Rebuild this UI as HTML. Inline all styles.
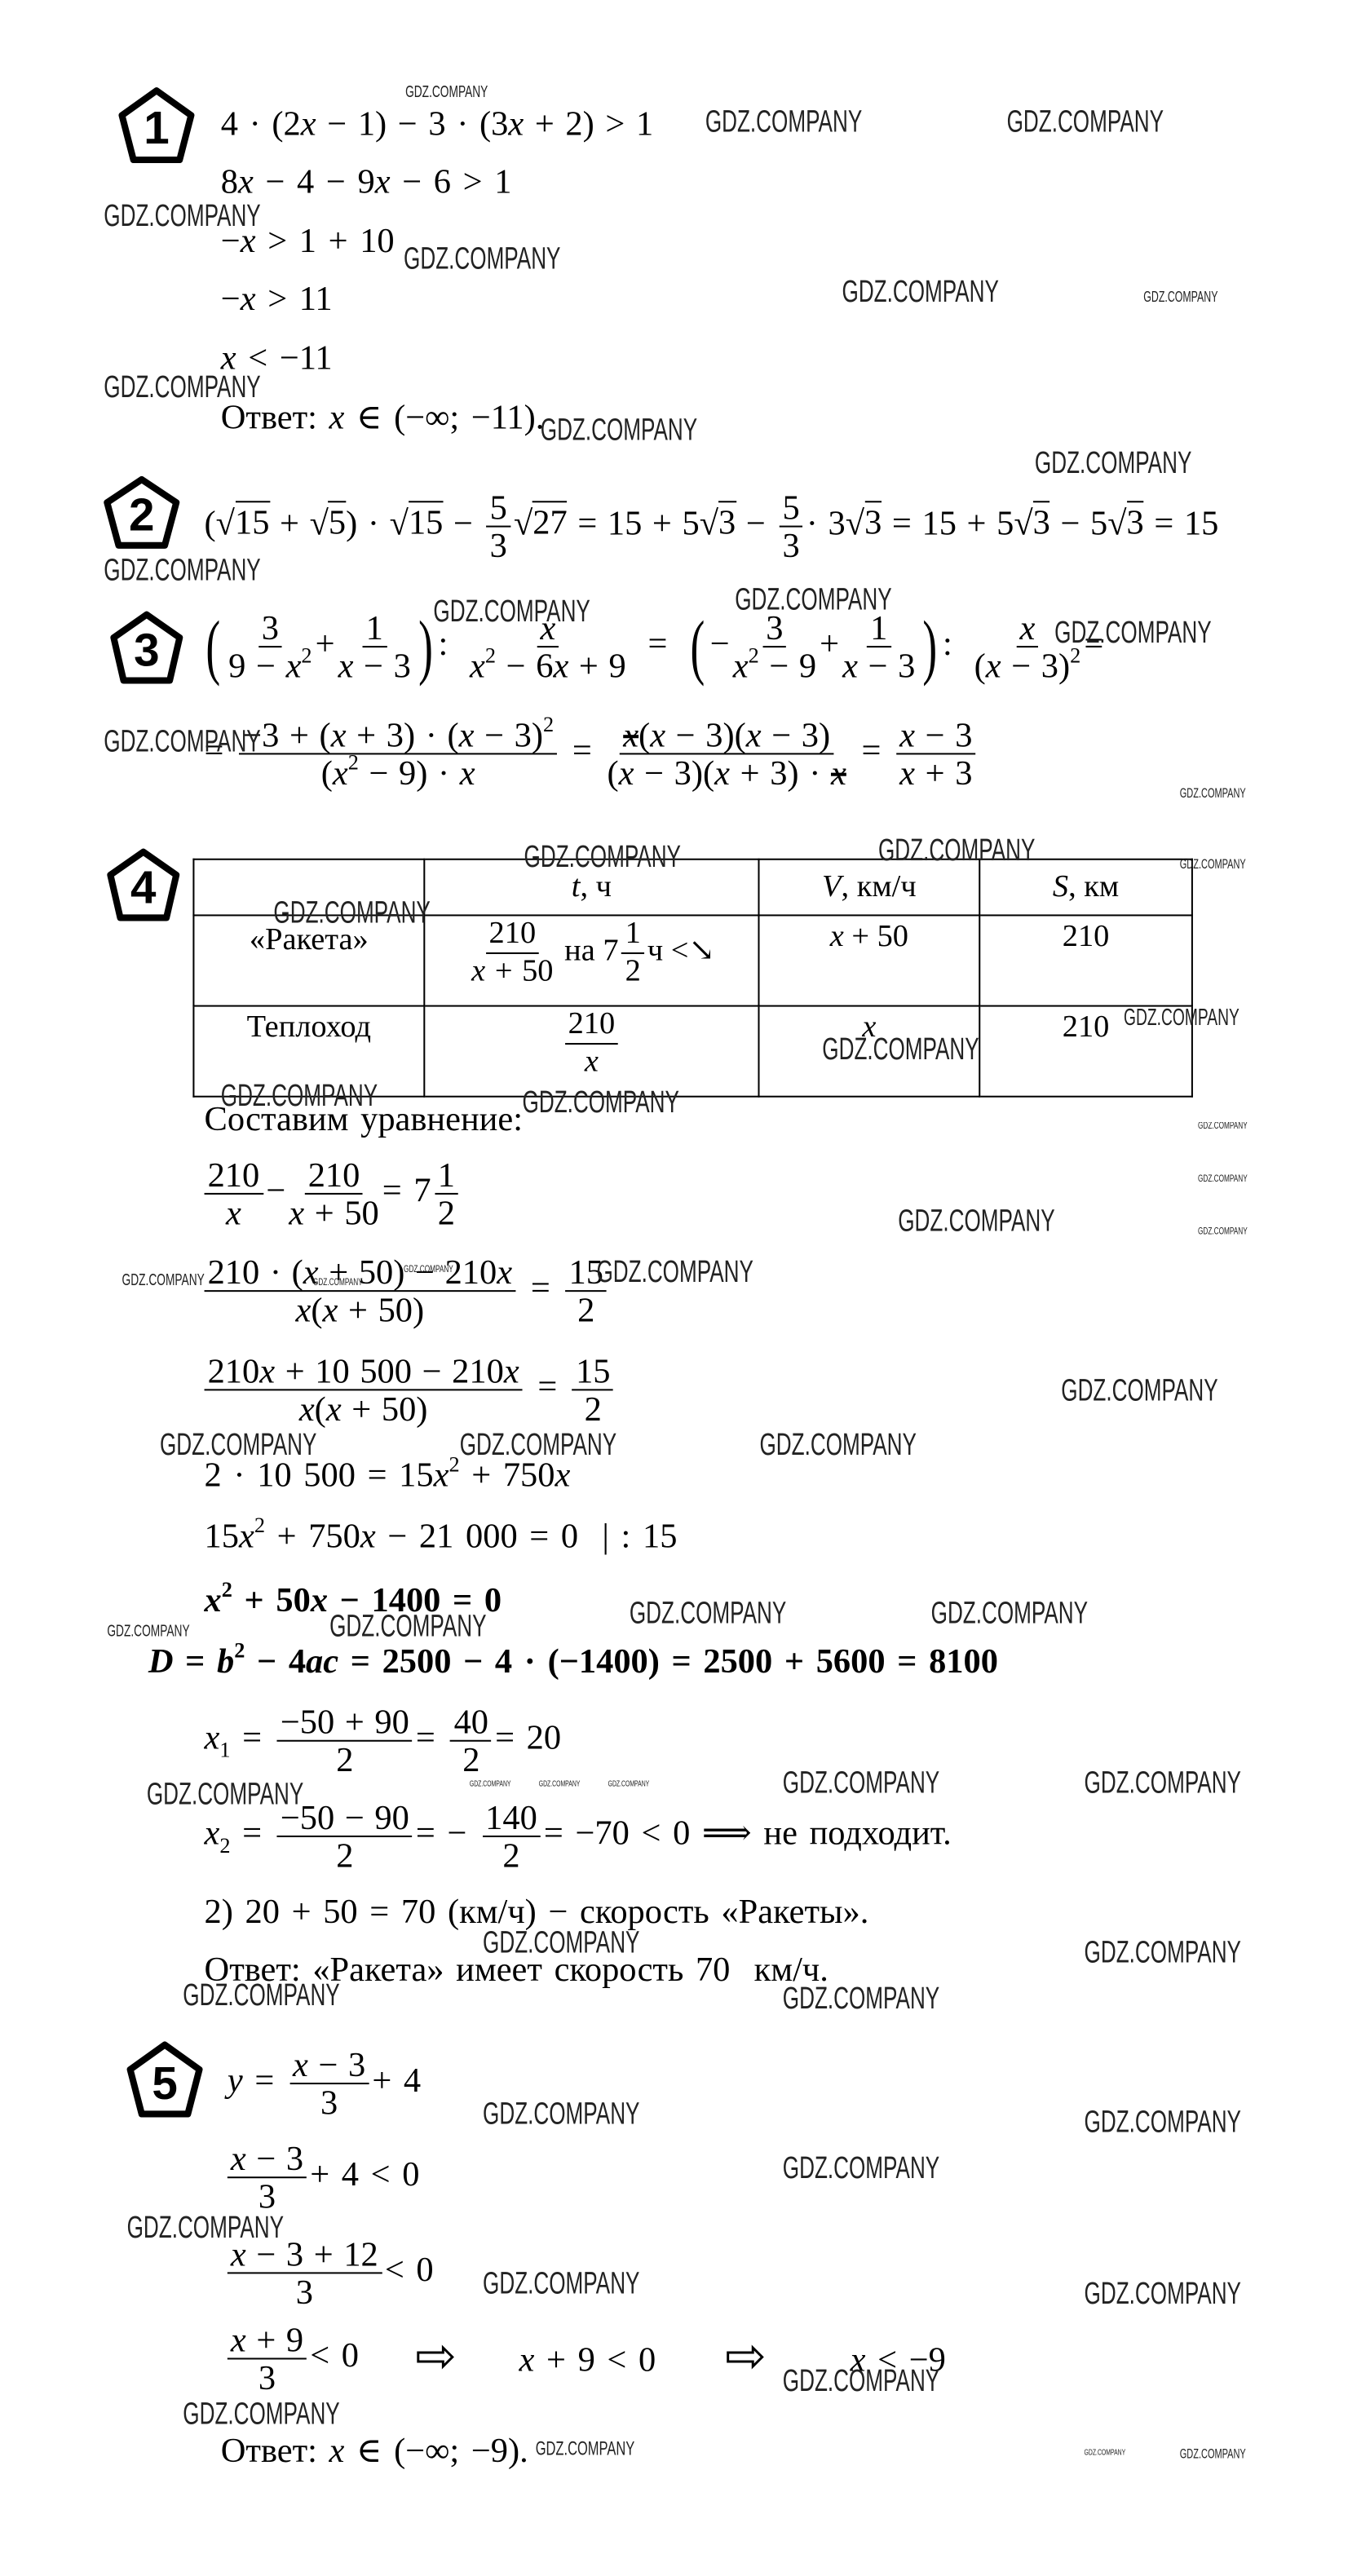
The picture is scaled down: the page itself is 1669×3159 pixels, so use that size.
<!DOCTYPE html>
<html><head><meta charset="utf-8">
<style>
html,body{margin:0;padding:0;background:#fff;}
body{width:1669px;height:3159px;overflow:hidden;position:relative;}
#c{position:absolute;left:0;top:0;width:826px;height:1563px;transform:scale(2.0206);transform-origin:0 0;font-family:"Liberation Serif","DejaVu Serif",serif;color:#000;}
.l{position:absolute;font-size:21px;line-height:24px;white-space:nowrap;word-spacing:2px;}
.b{font-weight:bold;}
i{font-style:italic;}
.f{display:inline-flex;flex-direction:column;align-items:center;vertical-align:middle;margin:0 2px;line-height:22px;word-spacing:1px;}
.f>span:first-child{border-bottom:1.6px solid #000;padding:0 2px;}
.f>span{display:block;text-align:center;}
.w{position:absolute;font-family:"Liberation Sans",sans-serif;white-space:nowrap;transform:scaleX(0.68);transform-origin:0 0;color:#222;line-height:1;}
.pg{position:absolute;}
sup{font-size:13px;vertical-align:9px;line-height:0}
sub{font-size:13px;vertical-align:-5px;line-height:0}
.sq{border-top:1.3px solid #000;}
.big{font-size:44px;line-height:40px;display:inline-block;transform:scaleX(0.6);vertical-align:middle;}
table{position:absolute;left:117px;top:521px;border-collapse:collapse;font-size:19px;}
td{border:1px solid #000;text-align:center;vertical-align:top;padding:0;}
</style></head><body><div id="c">

<svg class="pg" style="left:71px;top:52px" width="48" height="48" viewBox="0 0 48 48"><polygon points="24,3 45,18 38,45 10,45 3,18" fill="none" stroke="#000" stroke-width="4" stroke-linejoin="round"/><text x="24" y="35" font-family="Liberation Sans" font-weight="bold" font-size="28" text-anchor="middle">1</text></svg>
<svg class="pg" style="left:62px;top:288px" width="48" height="46" viewBox="0 0 48 46"><polygon points="24,3 45,17 38,43 10,43 3,17" fill="none" stroke="#000" stroke-width="4" stroke-linejoin="round"/><text x="24" y="34" font-family="Liberation Sans" font-weight="bold" font-size="28" text-anchor="middle">2</text></svg>
<svg class="pg" style="left:66px;top:370px" width="46" height="46" viewBox="0 0 46 46"><polygon points="23,3 43,17 37,43 9,43 3,17" fill="none" stroke="#000" stroke-width="4" stroke-linejoin="round"/><text x="23" y="34" font-family="Liberation Sans" font-weight="bold" font-size="28" text-anchor="middle">3</text></svg>
<svg class="pg" style="left:64px;top:514px" width="46" height="46" viewBox="0 0 46 46"><polygon points="23,3 43,17 37,43 9,43 3,17" fill="none" stroke="#000" stroke-width="4" stroke-linejoin="round"/><text x="23" y="34" font-family="Liberation Sans" font-weight="bold" font-size="28" text-anchor="middle">4</text></svg>
<svg class="pg" style="left:76px;top:1238px" width="48" height="48" viewBox="0 0 48 48"><polygon points="24,3 45,18 38,45 10,45 3,18" fill="none" stroke="#000" stroke-width="4" stroke-linejoin="round"/><text x="24" y="36" font-family="Liberation Sans" font-weight="bold" font-size="28" text-anchor="middle">5</text></svg>

<div class="l" style="left:134px;top:63px;word-spacing:1.5px">4 · (2<i>x</i> − 1) − 3 · (3<i>x</i> + 2) &gt; 1</div>
<div class="l" style="left:134px;top:98px">8<i>x</i> − 4 − 9<i>x</i> − 6 &gt; 1</div>
<div class="l" style="left:134px;top:134px">−<i>x</i> &gt; 1 + 10</div>
<div class="l" style="left:134px;top:169px">−<i>x</i> &gt; 11</div>
<div class="l" style="left:134px;top:205px"><i>x</i> &lt; −11</div>
<div class="l" style="left:134px;top:241px">Ответ: <i>x</i> ∈ (−∞; −11).</div>

<div class="l" style="left:124px;top:297px;word-spacing:1px">(√<span class="sq">15</span> + √<span class="sq">5</span>) · √<span class="sq">15</span> − <span class="f"><span>5</span><span>3</span></span>√<span class="sq">27</span> = 15 + 5√<span class="sq">3</span> − <span class="f"><span>5</span><span>3</span></span>· 3√<span class="sq">3</span> = 15 + 5√<span class="sq">3</span> − 5√<span class="sq">3</span> = 15</div>

<div class="l" style="left:122px;top:370px;word-spacing:6px"><span class="big">(</span><span class="f"><span>3</span><span>9 − <i>x</i><sup>2</sup></span></span>+<span class="f"><span>1</span><span><i>x</i> − 3</span></span><span class="big">)</span>: <span class="f"><span><i>x</i></span><span><i>x</i><sup>2</sup> − 6<i>x</i> + 9</span></span> = <span class="big">(</span>−<span class="f"><span>3</span><span><i>x</i><sup>2</sup> − 9</span></span>+<span class="f"><span>1</span><span><i>x</i> − 3</span></span><span class="big">)</span>: <span class="f"><span><i>x</i></span><span>(<i>x</i> − 3)<sup>2</sup></span></span>=</div>
<div class="l" style="left:124px;top:435px">= <span class="f"><span>−3 + (<i>x</i> + 3) · (<i>x</i> − 3)<sup>2</sup></span><span>(<i>x</i><sup>2</sup> − 9) · <i>x</i></span></span> = <span class="f"><span><s><i>x</i></s>(<i>x</i> − 3)(<i>x</i> − 3)</span><span>(<i>x</i> − 3)(<i>x</i> + 3) · <s><i>x</i></s></span></span> = <span class="f"><span><i>x</i> − 3</span><span><i>x</i> + 3</span></span></div>

<table>
<tr style="height:34px"><td style="width:139px"></td><td style="width:202px;vertical-align:middle"><i>t</i>, ч</td><td style="width:133px;vertical-align:middle"><i>V</i>, км/ч</td><td style="width:128px;vertical-align:middle"><i>S</i>, км</td></tr>
<tr style="height:55px"><td style="padding-top:4px">«Ракета»</td><td><div style="line-height:22px;white-space:nowrap"><span class="f"><span>210</span><span><i>x</i> + 50</span></span> на 7<span class="f"><span>1</span><span>2</span></span>ч &lt;↘</div></td><td style="padding-top:2px"><i>x</i> + 50</td><td style="padding-top:2px">210</td></tr>
<tr style="height:55px"><td style="padding-top:2px">Теплоход</td><td><div style="line-height:22px"><span class="f"><span>210</span><span><i>x</i></span></span></div></td><td style="padding-top:2px"><i>x</i></td><td style="padding-top:2px">210</td></tr>
</table>

<div class="l" style="left:124px;top:667px">Составим уравнение:</div>
<div class="l" style="left:124px;top:702px"><span class="f" style="margin-left:0"><span>210</span><span><i>x</i></span></span>−<span class="f"><span>210</span><span><i>x</i> + 50</span></span>= 7<span class="f"><span>1</span><span>2</span></span></div>
<div class="l" style="left:124px;top:761px"><span class="f" style="margin-left:0"><span>210 · (<i>x</i> + 50) − 210<i>x</i></span><span><i>x</i>(<i>x</i> + 50)</span></span> = <span class="f"><span>15</span><span>2</span></span></div>
<div class="l" style="left:124px;top:821px"><span class="f" style="margin-left:0"><span>210<i>x</i> + 10 500 − 210<i>x</i></span><span><i>x</i>(<i>x</i> + 50)</span></span> = <span class="f"><span>15</span><span>2</span></span></div>
<div class="l" style="left:124px;top:883px">2 · 10 500 = 15<i>x</i><sup>2</sup> + 750<i>x</i></div>
<div class="l" style="left:124px;top:920px">15<i>x</i><sup>2</sup> + 750<i>x</i> − 21 000 = 0 &nbsp;| : 15</div>
<div class="l b" style="left:124px;top:959px"><i>x</i><sup>2</sup> + 50<i>x</i> − 1400 = 0</div>
<div class="l b" style="left:90px;top:996px"><i>D</i> = <i>b</i><sup>2</sup> − 4<i>ac</i> = 2500 − 4 · (−1400) = 2500 + 5600 = 8100</div>
<div class="l" style="left:124px;top:1034px"><i>x</i><sub>1</sub> = <span class="f"><span>−50 + 90</span><span>2</span></span>= <span class="f"><span>40</span><span>2</span></span>= 20</div>
<div class="l" style="left:124px;top:1092px"><i>x</i><sub>2</sub> = <span class="f"><span>−50 − 90</span><span>2</span></span>= − <span class="f"><span>140</span><span>2</span></span>= −70 &lt; 0 ⟹ не подходит.</div>
<div class="l" style="left:124px;top:1148px">2) 20 + 50 = 70 (км/ч) − скорость «Ракеты».</div>
<div class="l" style="left:124px;top:1183px">Ответ: «Ракета» имеет скорость 70 &nbsp;км/ч.</div>

<div class="l" style="left:138px;top:1242px"><i>y</i> = <span class="f"><span><i>x</i> − 3</span><span>3</span></span>+ 4</div>
<div class="l" style="left:138px;top:1299px"><span class="f" style="margin-left:0"><span><i>x</i> − 3</span><span>3</span></span>+ 4 &lt; 0</div>
<div class="l" style="left:138px;top:1357px"><span class="f" style="margin-left:0"><span><i>x</i> − 3 + 12</span><span>3</span></span>&lt; 0</div>
<div class="l" style="left:138px;top:1409px"><span class="f" style="margin-left:0"><span><i>x</i> + 9</span><span>3</span></span>&lt; 0</div>
<div class="l" style="left:252px;top:1416px;font-family:'DejaVu Sans';font-size:30px;line-height:30px">⇨</div>
<div class="l" style="left:315px;top:1420px"><i>x</i> + 9 &lt; 0</div>
<div class="l" style="left:440px;top:1416px;font-family:'DejaVu Sans';font-size:30px;line-height:30px">⇨</div>
<div class="l" style="left:516px;top:1420px"><i>x</i> &lt; −9</div>
<div class="l" style="left:134px;top:1475px">Ответ: <i>x</i> ∈ (−∞; −9).</div>

<div class="w" style="left:246px;top:52px;font-size:10px">GDZ.COMPANY</div>
<div class="w" style="left:428px;top:65px;font-size:19px">GDZ.COMPANY</div>
<div class="w" style="left:611px;top:65px;font-size:19px">GDZ.COMPANY</div>
<div class="w" style="left:63px;top:122px;font-size:19px">GDZ.COMPANY</div>
<div class="w" style="left:245px;top:148px;font-size:19px">GDZ.COMPANY</div>
<div class="w" style="left:511px;top:168px;font-size:19px">GDZ.COMPANY</div>
<div class="w" style="left:694px;top:176px;font-size:9px">GDZ.COMPANY</div>
<div class="w" style="left:63px;top:226px;font-size:19px">GDZ.COMPANY</div>
<div class="w" style="left:328px;top:252px;font-size:19px">GDZ.COMPANY</div>
<div class="w" style="left:628px;top:272px;font-size:19px">GDZ.COMPANY</div>
<div class="w" style="left:63px;top:337px;font-size:19px">GDZ.COMPANY</div>
<div class="w" style="left:263px;top:362px;font-size:19px">GDZ.COMPANY</div>
<div class="w" style="left:446px;top:355px;font-size:19px">GDZ.COMPANY</div>
<div class="w" style="left:640px;top:375px;font-size:19px">GDZ.COMPANY</div>
<div class="w" style="left:63px;top:441px;font-size:19px">GDZ.COMPANY</div>
<div class="w" style="left:716px;top:478px;font-size:8px">GDZ.COMPANY</div>
<div class="w" style="left:318px;top:511px;font-size:19px">GDZ.COMPANY</div>
<div class="w" style="left:533px;top:507px;font-size:19px">GDZ.COMPANY</div>
<div class="w" style="left:716px;top:521px;font-size:8px">GDZ.COMPANY</div>
<div class="w" style="left:166px;top:545px;font-size:19px">GDZ.COMPANY</div>
<div class="w" style="left:682px;top:610px;font-size:14px">GDZ.COMPANY</div>
<div class="w" style="left:499px;top:628px;font-size:19px">GDZ.COMPANY</div>
<div class="w" style="left:134px;top:656px;font-size:19px">GDZ.COMPANY</div>
<div class="w" style="left:317px;top:660px;font-size:19px">GDZ.COMPANY</div>
<div class="w" style="left:727px;top:681px;font-size:6px">GDZ.COMPANY</div>
<div class="w" style="left:727px;top:713px;font-size:6px">GDZ.COMPANY</div>
<div class="w" style="left:727px;top:745px;font-size:6px">GDZ.COMPANY</div>
<div class="w" style="left:545px;top:732px;font-size:19px">GDZ.COMPANY</div>
<div class="w" style="left:74px;top:773px;font-size:10px">GDZ.COMPANY</div>
<div class="w" style="left:362px;top:763px;font-size:19px">GDZ.COMPANY</div>
<div class="w" style="left:190px;top:776px;font-size:6px">GDZ.COMPANY</div>
<div class="w" style="left:245px;top:768px;font-size:6px">GDZ.COMPANY</div>
<div class="w" style="left:644px;top:835px;font-size:19px">GDZ.COMPANY</div>
<div class="w" style="left:97px;top:868px;font-size:19px">GDZ.COMPANY</div>
<div class="w" style="left:279px;top:868px;font-size:19px">GDZ.COMPANY</div>
<div class="w" style="left:461px;top:868px;font-size:19px">GDZ.COMPANY</div>
<div class="w" style="left:382px;top:970px;font-size:19px">GDZ.COMPANY</div>
<div class="w" style="left:565px;top:970px;font-size:19px">GDZ.COMPANY</div>
<div class="w" style="left:200px;top:978px;font-size:19px">GDZ.COMPANY</div>
<div class="w" style="left:65px;top:986px;font-size:10px">GDZ.COMPANY</div>
<div class="w" style="left:89px;top:1080px;font-size:19px">GDZ.COMPANY</div>
<div class="w" style="left:475px;top:1073px;font-size:19px">GDZ.COMPANY</div>
<div class="w" style="left:658px;top:1073px;font-size:19px">GDZ.COMPANY</div>
<div class="w" style="left:285px;top:1081px;font-size:5px">GDZ.COMPANY</div>
<div class="w" style="left:327px;top:1081px;font-size:5px">GDZ.COMPANY</div>
<div class="w" style="left:369px;top:1081px;font-size:5px">GDZ.COMPANY</div>
<div class="w" style="left:293px;top:1170px;font-size:19px">GDZ.COMPANY</div>
<div class="w" style="left:658px;top:1176px;font-size:19px">GDZ.COMPANY</div>
<div class="w" style="left:111px;top:1202px;font-size:19px">GDZ.COMPANY</div>
<div class="w" style="left:475px;top:1204px;font-size:19px">GDZ.COMPANY</div>
<div class="w" style="left:293px;top:1274px;font-size:19px">GDZ.COMPANY</div>
<div class="w" style="left:658px;top:1279px;font-size:19px">GDZ.COMPANY</div>
<div class="w" style="left:475px;top:1307px;font-size:19px">GDZ.COMPANY</div>
<div class="w" style="left:77px;top:1343px;font-size:19px">GDZ.COMPANY</div>
<div class="w" style="left:293px;top:1377px;font-size:19px">GDZ.COMPANY</div>
<div class="w" style="left:658px;top:1383px;font-size:19px">GDZ.COMPANY</div>
<div class="w" style="left:475px;top:1436px;font-size:19px">GDZ.COMPANY</div>
<div class="w" style="left:111px;top:1456px;font-size:19px">GDZ.COMPANY</div>
<div class="w" style="left:325px;top:1480px;font-size:12px">GDZ.COMPANY</div>
<div class="w" style="left:658px;top:1487px;font-size:5px">GDZ.COMPANY</div>
<div class="w" style="left:716px;top:1486px;font-size:8px">GDZ.COMPANY</div>

</div></body></html>
